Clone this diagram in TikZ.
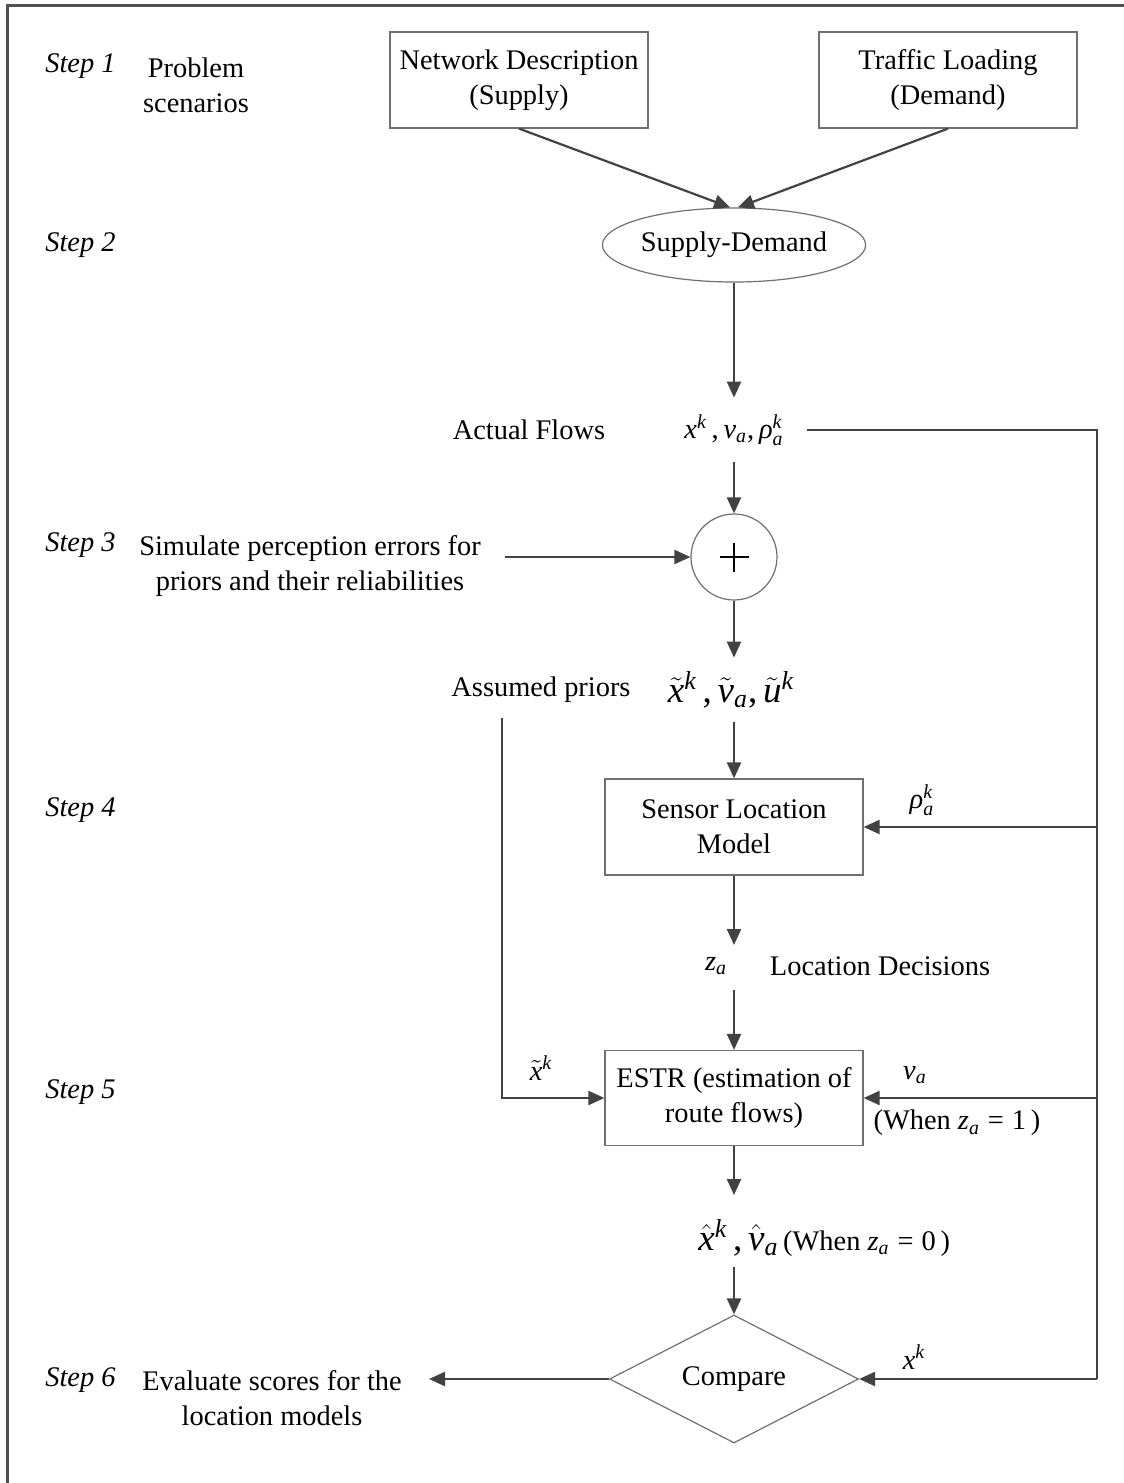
\documentclass[tikz,border=0pt]{standalone}
\usepackage{amsmath}
\usepackage[no-math]{fontspec}
\setmainfont{Liberation Serif}
\usetikzlibrary{arrows.meta,shapes.geometric}

% italic variable set in the text font
\newcommand{\vi}[1]{\mathord{\text{\itshape #1}}}
% accented variable whose accent does not lift the superscript
\newcommand{\tv}[1]{\smash[t]{\tilde{\vi{#1}}}}
\newcommand{\hv}[1]{\smash[t]{\hat{\vi{#1}}}}

\definecolor{framegray}{HTML}{505050}
\definecolor{linegray}{HTML}{424242}
\definecolor{boxgray}{HTML}{707070}

\begin{document}
\begin{tikzpicture}[x=0.5pt,y=-0.5pt,
  txt/.style={font=\fontsize{14.2}{17.5}\selectfont, inner sep=0pt, align=center},
  steplabel/.style={txt, font=\fontsize{14.2}{17.5}\selectfont\itshape, anchor=west},
  box/.style={txt, draw=boxgray, line width=0.6pt, minimum width=129pt, minimum height=48pt},
  bigmath/.style={txt, font=\fontsize{18.5}{22}\selectfont},
  flow/.style={draw=linegray, line width=1.1pt, -{Triangle[length=8pt,width=7pt]}},
  wire/.style={draw=linegray, line width=1.1pt},
]
\fill[white] (0,0) rectangle (1124,1483);
\useasboundingbox (0,0) rectangle (1124,1483);

% outer frame (top and left edges)
\draw[framegray, line width=1.5pt] (7,1483) -- (7,5) -- (1124,5);

% Step 1
\node[steplabel] (s1) at (45,66) {Step 1};
\node[txt] (prob) at (196,85) {Problem\\scenarios};
\node[box] (net) at (519,80) {Network Description\\(Supply)};
\node[box] (traf) at (948,80) {Traffic Loading\\(Demand)};

% Step 2
\node[steplabel] (s2) at (45,245) {Step 2};
\node[txt, draw=boxgray, line width=0.6pt, ellipse, minimum width=125pt, minimum height=37pt] (sd) at (734,245) {Supply-Demand};
\draw[flow] (net.south) -- (sd.96);
\draw[flow] (traf.south) -- (sd.84);

% actual flows
\node[txt] (actual) at (529,430) {Actual Flows};
\node[txt, minimum height=32pt] (af) at (734,430)
  {$\vi{x}^{\vi{k}}\,\text{,}\,\vi{v}_{\vi{a}}\text{,}\,\vi{ρ}^{\vi{k}}_{\vi{a}}$};
\draw[flow] (sd.south) -- (af.north);
\coordinate (afE) at (807,430);
\coordinate (busTop) at (1097,430);
\coordinate (busBot) at (1097,1379);
\draw[wire] (afE) -- (busTop) -- (busBot);

% Step 3
\node[steplabel] (s3) at (45,545) {Step 3};
\node[draw=boxgray, line width=0.6pt, circle, minimum size=43pt, inner sep=0pt] (plus) at (734,557) {};
\draw[black, line width=1pt] ([xshift=-7.25pt]plus.center) -- ([xshift=7.25pt]plus.center)
  ([yshift=-7.25pt]plus.center) -- ([yshift=7.25pt]plus.center);
\draw[flow] (af.south) -- (plus.north);
\node[txt] (sim) at (310,566) {Simulate perception errors for\\priors and their reliabilities};
\coordinate (simE) at (505,557);
\draw[flow] (simE) -- (plus.west);

% priors
\node[txt] (assumed) at (541,690) {Assumed priors};
\node[bigmath, minimum height=32pt] (prior) at (731,690)
  {$\tv{x}^{\vi{k}}\,\text{,}\,\tv{v}_{\vi{a}}\text{,}\,\tv{u}^{\vi{k}}$};
\draw[flow] (plus.south) -- (plus.south |- prior.north);

% Step 4
\node[steplabel] (s4) at (45,810) {Step 4};
\node[box] (sensor) at (734,827) {Sensor Location\\Model};
\draw[flow] (plus.south |- prior.south) -- (sensor.north);
\node[txt] (rho) at (922,800) {$\vi{ρ}^{\vi{k}}_{\vi{a}}$};
\draw[flow] (sensor.east -| busTop) -- (sensor.east);

% location decisions
\coordinate (zaTop) at (734,945);
\coordinate (zaBot) at (734,990);
\node[txt] (za) at (716,966) {$\vi{z}_{\vi{a}}$};
\node[txt] (locdec) at (880,966) {Location Decisions};
\draw[flow] (sensor.south) -- (zaTop);

% Step 5
\node[steplabel] (s5) at (45,1092) {Step 5};
\node[box, minimum height=47.5pt] (estr) at (734,1098) {ESTR (estimation of\\route flows)};
\draw[flow] (zaBot) -- (estr.north);
\coordinate (apTop) at (502,718);
\draw[flow] (apTop) |- (estr.west);
\node[txt] (xtl) at (541,1068) {$\tv{x}^{\vi{k}}$};
\draw[flow] (estr.east -| busTop) -- (estr.east);
\node[txt] (val) at (915,1075) {$\vi{v}_{\vi{a}}$};
\node[txt] (when1) at (957,1123) {(When $\vi{z}_{\vi{a}}\mathrel{\text{=}}\text{1}\,$)};

% estimates
\coordinate (hatTop) at (734,1195);
\coordinate (hatBot) at (734,1267);
\draw[flow] (estr.south) -- (hatTop);
\node[txt, anchor=west] (est) at (698,1238)
  {{\fontsize{18.5}{22}\selectfont$\hv{x}^{\vi{k}}\,\text{,}\,\hv{v}_{\vi{a}}$}\,(When $\vi{z}_{\vi{a}}\mathrel{\text{=}}\text{0}\,$)};

% Step 6
\node[steplabel] (s6) at (45,1380) {Step 6};
\node[txt, draw=boxgray, line width=0.6pt, diamond, aspect=2, minimum width=124.5pt, minimum height=64pt] (cmp) at (734,1379) {Compare};
\draw[flow] (hatBot) -- (cmp.north);
\draw[flow] (busBot) -- (cmp.east);
\node[txt] (xk) at (914,1357) {$\vi{x}^{\vi{k}}$};
\node[txt] (eval) at (272,1398) {Evaluate scores for the\\location models};
\coordinate (evalE) at (429,1379);
\draw[flow] (cmp.west) -- (evalE);
\end{tikzpicture}
\end{document}
